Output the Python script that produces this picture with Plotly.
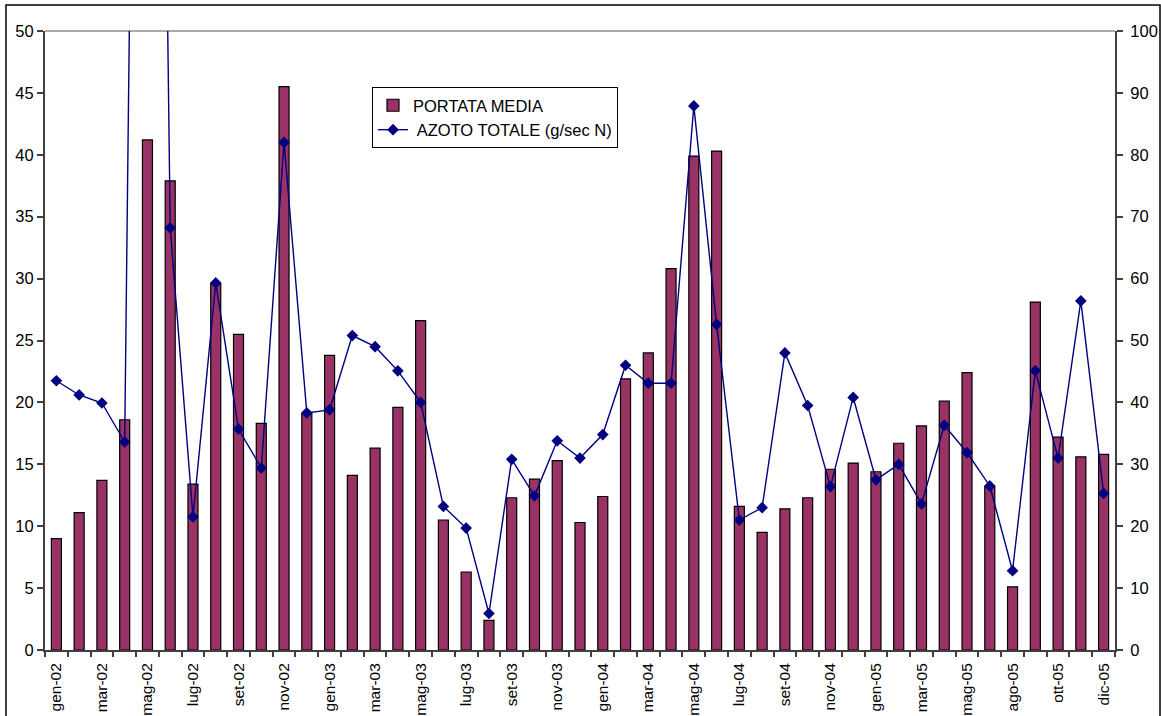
import plotly.graph_objects as go

# Monthly categories (lug-05 not sampled)
months = [
    "gen-02", "feb-02", "mar-02", "apr-02", "mag-02", "giu-02", "lug-02", "ago-02", "set-02", "ott-02", "nov-02", "dic-02",
    "gen-03", "feb-03", "mar-03", "apr-03", "mag-03", "giu-03", "lug-03", "ago-03", "set-03", "ott-03", "nov-03", "dic-03",
    "gen-04", "feb-04", "mar-04", "apr-04", "mag-04", "giu-04", "lug-04", "ago-04", "set-04", "ott-04", "nov-04", "dic-04",
    "gen-05", "feb-05", "mar-05", "apr-05", "mag-05", "giu-05", "ago-05", "set-05", "ott-05", "nov-05", "dic-05",
]

# Mean flow (left axis)
portata_media = [
    9.0, 11.1, 13.7, 18.6, 41.2, 37.9, 13.4, 29.6, 25.5, 18.3, 45.5, 19.1,
    23.8, 14.1, 16.3, 19.6, 26.6, 10.5, 6.3, 2.4, 12.3, 13.8, 15.3, 10.3,
    12.4, 21.9, 24.0, 30.8, 39.9, 40.3, 11.6, 9.5, 11.4, 12.3, 14.6, 15.1,
    14.4, 16.7, 18.1, 20.1, 22.4, 13.2, 5.1, 28.1, 17.2, 15.6, 15.8,
]

# Total nitrogen load, g/sec N (right axis)
azoto_totale = [
    43.5, 41.2, 39.9, 33.6, 360.0, 68.2, 21.5, 59.3, 35.7, 29.4, 82.0, 38.3,
    38.8, 50.8, 49.0, 45.1, 40.0, 23.2, 19.7, 5.9, 30.8, 24.9, 33.8, 31.0,
    34.8, 46.0, 43.1, 43.1, 87.9, 52.6, 21.0, 23.0, 48.0, 39.5, 26.4, 40.8,
    27.5, 30.0, 23.6, 36.3, 31.9, 26.5, 12.8, 45.1, 31.0, 56.4, 25.3,
]

idx = list(range(len(months)))
label_idx = idx[::2]
label_txt = [months[i] for i in label_idx]

FONT = "Liberation Sans, Arial, sans-serif"
AXIS = "#404040"
FS = 16.5

fig = go.Figure()

fig.add_trace(go.Bar(
    x=idx, y=portata_media, name="PORTATA MEDIA",
    marker=dict(color="#993366", line=dict(color="black", width=1.2)),
    yaxis="y",
))

fig.add_trace(go.Scatter(
    x=idx, y=azoto_totale, name=" AZOTO TOTALE (g/sec N)",
    mode="lines+markers",
    line=dict(color="#000080", width=1.4),
    marker=dict(symbol="diamond", size=9, color="#000080"),
    cliponaxis=True,
    yaxis="y2",
))

fig.update_layout(
    width=1161, height=716,
    margin=dict(l=45, r=46, t=31, b=66, autoexpand=False),
    paper_bgcolor="white", plot_bgcolor="white",
    font=dict(family=FONT, size=FS, color="black"),
    bargap=0.56,
    showlegend=True,
    legend=dict(
        x=(372 - 45) / 1070, y=(650 - 87) / 619,
        xanchor="left", yanchor="top",
        bgcolor="white", bordercolor="black", borderwidth=1,
        font=dict(family=FONT, size=FS, color="black"),
        tracegroupgap=0, itemwidth=30,
    ),
    xaxis=dict(
        range=[-0.5, len(months) - 0.5],
        tickmode="array", tickvals=label_idx, ticktext=label_txt,
        tickangle=-90, ticks="", showgrid=False, zeroline=False,
        showline=True, linecolor=AXIS, linewidth=2,
        ticklabelstandoff=5, automargin=False,
        tickfont=dict(family=FONT, size=15.5, color="black"),
        minor=dict(tickmode="array", tickvals=[i - 0.5 for i in range(len(months) + 1)],
                   ticks="outside", ticklen=5, tickcolor=AXIS, tickwidth=1.5, showgrid=False),
    ),
    yaxis=dict(
        range=[0, 50], dtick=5, tick0=0,
        ticks="outside", ticklen=6, tickcolor=AXIS, tickwidth=1.5,
        showline=True, linecolor=AXIS, linewidth=2,
        showgrid=False, zeroline=False, automargin=False,
        tickfont=dict(family=FONT, size=FS, color="black"),
    ),
    yaxis2=dict(
        range=[0, 100], dtick=10, tick0=0, overlaying="y", side="right",
        ticks="outside", ticklen=6, tickcolor=AXIS, tickwidth=1.5,
        showline=True, linecolor=AXIS, linewidth=2,
        showgrid=False, zeroline=False, automargin=False,
        ticklabelstandoff=4,
        tickfont=dict(family=FONT, size=FS, color="black"),
    ),
    shapes=[
        # top border of plot area
        dict(type="line", xref="paper", yref="paper", x0=0, x1=1, y0=1, y1=1,
             line=dict(color="#8c8c8c", width=1.5), layer="below"),
        # chart frame
        dict(type="rect", xref="paper", yref="paper",
             x0=(6 - 45) / 1070, x1=(1160 - 45) / 1070,
             y0=(650 - 730) / 619, y1=(650 - 5) / 619,
             line=dict(color="black", width=1.5), fillcolor="rgba(0,0,0,0)"),
    ],
)

fig.write_html("out.html")
